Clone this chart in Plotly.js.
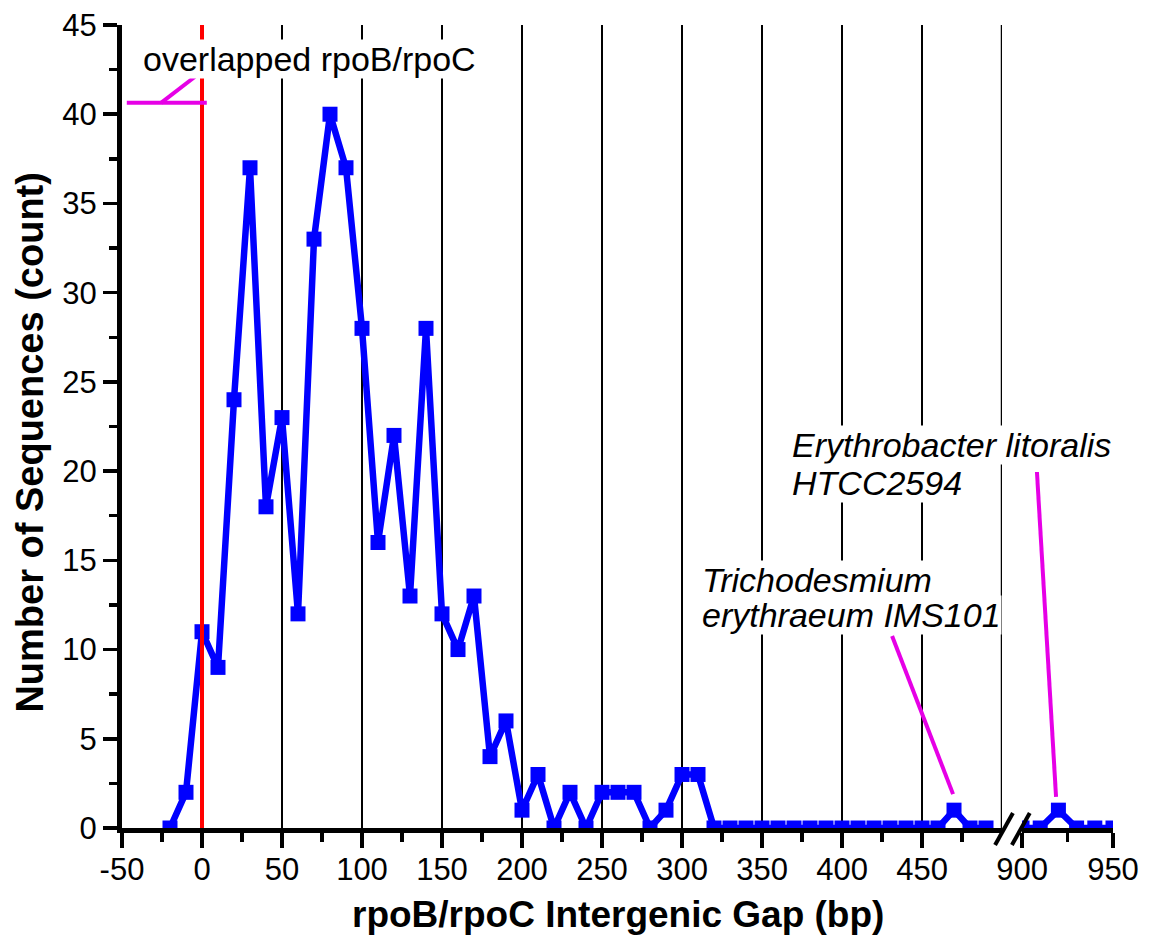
<!DOCTYPE html>
<html>
<head>
<meta charset="utf-8">
<script src="https://cdn.plot.ly/plotly-3.0.1.min.js"></script>
<style>html,body{margin:0;padding:0;background:#fff;}#chart{width:1151px;height:942px;}</style>
</head>
<body>
<div id="chart"></div>
<script>
// ---- data ----
const gapLeft = [-20,-10,0,10,20,30,40,50,60,70,80,90,100,110,120,130,140,150,160,170,180,190,200,210,220,230,240,250,260,270,280,290,300,310,320,330,340,350,360,370,380,390,400,410,420,430,440,450,460,470,480,490];
const countLeft = [0,2,11,9,24,37,18,23,12,33,40,37,28,16,22,13,28,12,10,13,4,6,1,3,0,2,0,2,2,2,0,1,3,3,0,0,0,0,0,0,0,0,0,0,0,0,0,0,0,1,0,0];
const gapRight = [900,910,920,930,940,950];
const countRight = [0,0,1,0,0,0];
const xTicksLeft = [-50,0,50,100,150,200,250,300,350,400,450];
const xTicksRight = [900,950];
const yTicks = [0,5,10,15,20,25,30,35,40,45];
const xTitle = 'rpoB/rpoC Intergenic Gap (bp)';
const yTitle = 'Number of Sequences (count)';
const noteOverlap = 'overlapped rpoB/rpoC';
const noteTricho = ['Trichodesmium', 'erythraeum IMS101'];
const noteEry = ['Erythrobacter litoralis', 'HTCC2594'];

const FONT = 'Arial, "Liberation Sans", Helvetica, sans-serif';
const BLUE = '#0000ff';
const MAG = '#e600e6';

const lineStyle = {color: BLUE, width: 6.5};
const markerStyle = {symbol: 'square', size: 15, color: BLUE};

const traces = [
  {x: gapLeft, y: countLeft, xaxis: 'x', yaxis: 'y', type: 'scatter', mode: 'lines+markers',
   line: lineStyle, marker: markerStyle, cliponaxis: true, showlegend: false, hoverinfo: 'skip'},
  {x: gapRight, y: countRight, xaxis: 'x2', yaxis: 'y', type: 'scatter', mode: 'lines+markers',
   line: lineStyle, marker: markerStyle, cliponaxis: true, showlegend: false, hoverinfo: 'skip'}
];

const axCommon = {
  showline: true, linewidth: 5, linecolor: '#000', mirror: false,
  ticks: 'outside', ticklen: 15, tickwidth: 3.5, tickcolor: '#000',
  showgrid: true, gridcolor: '#000', gridwidth: 2.5, zeroline: false,
  tickfont: {family: FONT, size: 31, color: '#000'}
};

const ANN = 34;

const layout = {
  width: 1151, height: 942,
  margin: {l: 122, r: 38, t: 25, b: 114, pad: 0},
  paper_bgcolor: '#fff', plot_bgcolor: '#fff',
  font: {family: FONT, color: '#000'},
  xaxis: Object.assign({}, axCommon, {
    domain: [0, 0.888], range: [-50, 500], anchor: 'y', ticklabelstandoff: -5,
    tickmode: 'array', tickvals: xTicksLeft, ticktext: xTicksLeft.map(String),
    minor: {tickmode: 'array', tickvals: xTicksLeft.map(v => v + 25), ticklen: 9, tickwidth: 3.5, tickcolor: '#000', ticks: 'outside', showgrid: false}
  }),
  xaxis2: Object.assign({}, axCommon, {
    domain: [0.9082, 1], range: [900, 950], anchor: 'y', ticklabelstandoff: -5,
    tickmode: 'array', tickvals: xTicksRight, ticktext: xTicksRight.map(String),
    minor: {tickmode: 'array', tickvals: [925], ticklen: 9, tickwidth: 3.5, tickcolor: '#000', ticks: 'outside', showgrid: false}
  }),
  yaxis: Object.assign({}, axCommon, {
    range: [0, 45], showgrid: false, ticklen: 14,
    tickmode: 'array', tickvals: yTicks, ticktext: yTicks.map(String),
    minor: {dtick: 2.5, tick0: 0, ticklen: 8, tickwidth: 3.5, tickcolor: '#000', ticks: 'outside', showgrid: false}
  }),
  shapes: [
    {type: 'line', xref: 'x', yref: 'paper', x0: 500, x1: 500, y0: 0, y1: 1, line: {color: '#000', width: 2.5}, layer: 'below'},
    {type: 'line', xref: 'x', yref: 'paper', x0: 0, x1: 0, y0: 0, y1: 1, line: {color: '#ff0000', width: 4}, layer: 'above'},
    {type: 'line', xref: 'x', yref: 'y', x0: -47, x1: 3, y0: 40.64, y1: 40.64, line: {color: MAG, width: 4}, layer: 'above'},
    {type: 'line', xref: 'x', yref: 'y', x0: -25.6, x1: -4.4, y0: 40.64, y1: 42.1, line: {color: MAG, width: 4}, layer: 'above'},
    {type: 'line', xref: 'x', yref: 'y', x0: 431.3, x1: 469.4, y0: 10.76, y1: 1.9, line: {color: MAG, width: 4}, layer: 'above'},
    {type: 'line', xref: 'x2', yref: 'y', x0: 908.2, x1: 918.7, y0: 19.95, y1: 1.74, line: {color: MAG, width: 4}, layer: 'above'},
    {type: 'line', xref: 'paper', yref: 'paper', x0: 0.881, x1: 0.899, y0: -0.0212, y1: 0.0187, line: {color: '#000', width: 4}, layer: 'above'},
    {type: 'line', xref: 'paper', yref: 'paper', x0: 0.898, x1: 0.916, y0: -0.0212, y1: 0.0187, line: {color: '#000', width: 4}, layer: 'above'}
  ],
  annotations: [
    {text: noteOverlap, xref: 'x', yref: 'y', x: 66.9, y: 43.1, xanchor: 'center', yanchor: 'middle',
     showarrow: false, bgcolor: '#fff', borderpad: 0, font: {family: FONT, size: ANN, color: '#000'}},
    {text: '<i>' + noteTricho[0] + '</i>', xref: 'paper', yref: 'paper', x: 0.584, y: 0.3088, xanchor: 'left', yanchor: 'middle',
     showarrow: false, bgcolor: '#fff', borderpad: 0, font: {family: FONT, size: ANN, color: '#000'}},
    {text: '<i>' + noteTricho[1] + '</i>', xref: 'paper', yref: 'paper', x: 0.584, y: 0.2653, xanchor: 'left', yanchor: 'middle',
     showarrow: false, bgcolor: '#fff', borderpad: 0, font: {family: FONT, size: ANN, color: '#000'}},
    {text: '<i>' + noteEry[0] + '</i>', xref: 'paper', yref: 'paper', x: 0.675, y: 0.477, xanchor: 'left', yanchor: 'middle',
     showarrow: false, bgcolor: '#fff', borderpad: 0, font: {family: FONT, size: ANN, color: '#000'}},
    {text: '<i>' + noteEry[1] + '</i>', xref: 'paper', yref: 'paper', x: 0.675, y: 0.4296, xanchor: 'left', yanchor: 'middle',
     showarrow: false, bgcolor: '#fff', borderpad: 0, font: {family: FONT, size: ANN, color: '#000'}},
    {text: '<b>' + xTitle + '</b>', xref: 'paper', yref: 'paper', x: 0.5, y: -0.1083, xanchor: 'center', yanchor: 'middle',
     showarrow: false, font: {family: FONT, size: 37, color: '#000'}},
    {text: '<b>' + yTitle + '</b>', xref: 'paper', yref: 'paper', x: -0.093, y: 0.481, xanchor: 'center', yanchor: 'middle',
     textangle: -90, showarrow: false, font: {family: FONT, size: 38, color: '#000'}}
  ]
};

Plotly.newPlot('chart', traces, layout, {displayModeBar: false, staticPlot: true});
</script>
</body>
</html>
